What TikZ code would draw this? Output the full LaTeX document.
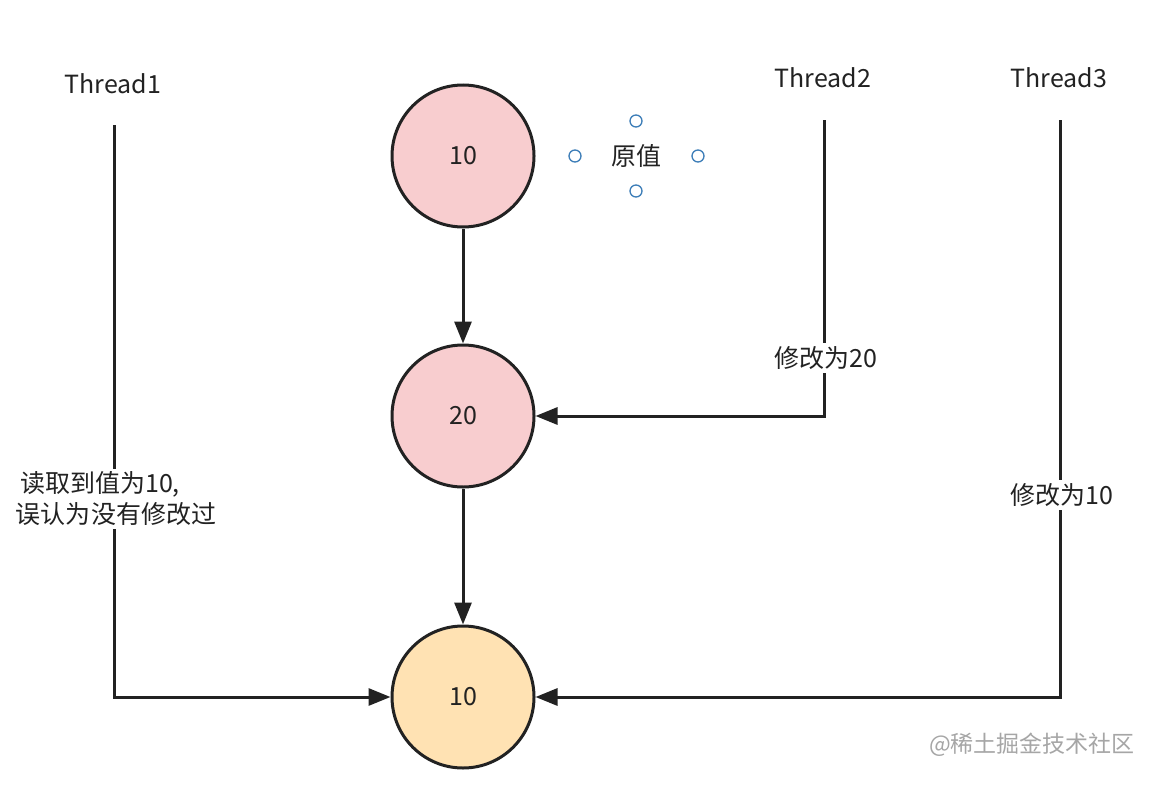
\documentclass[tikz,border=0pt]{standalone}
\usepackage{fontspec}
\setmainfont{Noto Sans CJK SC}
\usetikzlibrary{arrows.meta}
\definecolor{pinkfill}{HTML}{F8CDCF}
\definecolor{orangefill}{HTML}{FFE2B3}
\definecolor{handle}{HTML}{3C7DB8}
\definecolor{ink}{HTML}{222222}
\tikzset{
  val/.style={circle, draw=ink, line width=3pt, minimum size=142pt, inner sep=0pt, font=\fontsize{25}{28}\selectfont, text=ink},
  lbl/.style={font=\fontsize{25}{31}\selectfont, text=ink, inner sep=2pt},
  onl/.style={lbl, fill=white, inner sep=3pt},
  conn/.style={draw=ink, line width=3pt, -{Triangle[length=22pt,width=17pt]}},
  hdl/.style={circle, draw=handle, fill=white, line width=1.3pt, minimum size=12pt, inner sep=0pt}
}
\begin{document}
\begin{tikzpicture}[x=1pt,y=-1pt]
\useasboundingbox (0,0) rectangle (1166,784);
\fill[white] (0,0) rectangle (1166,784);
% value circles
\node[val, fill=pinkfill] (c1) at (463,156) {10};
\node[val, fill=pinkfill] (c2) at (463,416) {20};
\node[val, fill=orangefill] (c3) at (463,697) {10};
% original value label with handles
\node[lbl] (orig) at (636,156) {原值};
\node[hdl] (h1) at (636,121) {};
\node[hdl] (h2) at (636,191) {};
\node[hdl] (h3) at (575,156) {};
\node[hdl] (h4) at (698,156) {};
% thread labels
\node[lbl] (t1) at (113,84) {Thread1};
\node[lbl] (t2) at (823,78) {Thread2};
\node[lbl] (t3) at (1059,78) {Thread3};
% coordinates
\coordinate (s1) at (114,125);
\coordinate (k1) at (114,697);
\coordinate (s2) at (824,120);
\coordinate (k2) at (824,416);
\coordinate (s3) at (1060,120);
\coordinate (k3) at (1060,697);
% connectors
\draw[conn] (c1) -- (c2);
\draw[conn] (c2) -- (c3);
\draw[conn] (s1) -- (k1) -- (c3);
\draw[conn] (s2) -- (k2) -- (c2);
\draw[conn] (s3) -- (k3) -- (c3);
% labels on lines
\node[onl, align=left] (l1) at (116,499) {\,读取到值为10,\\误认为没有修改过};
\node[onl] (l2) at (826,358) {修改为20};
\node[onl] (l3) at (1062,495) {修改为10};
% watermark
\node[font=\fontsize{23}{26}\selectfont, text=gray!70] (wm) at (1032,745) {@稀土掘金技术社区};
\end{tikzpicture}
\end{document}
